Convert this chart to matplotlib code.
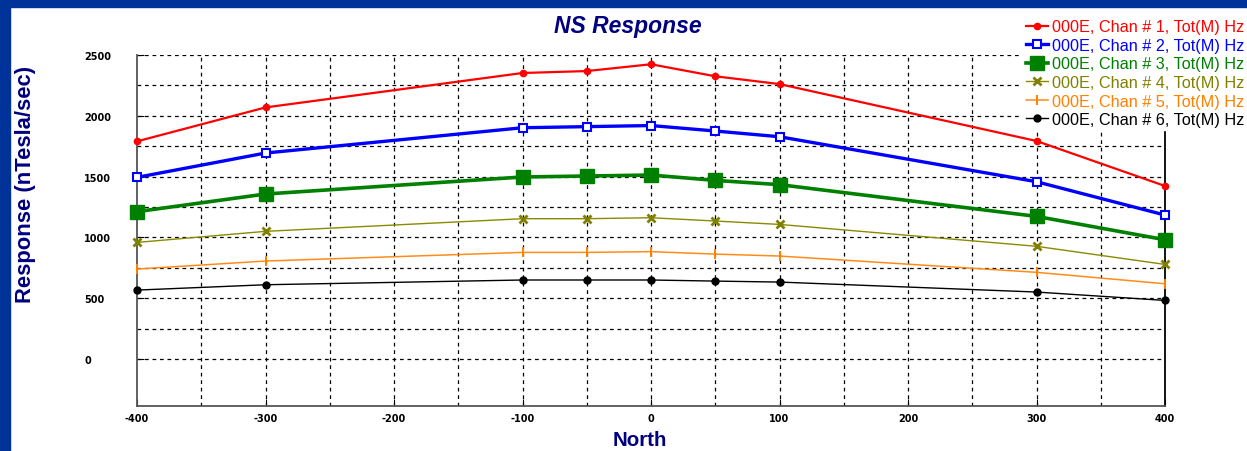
import matplotlib
matplotlib.use("Agg")
import matplotlib.pyplot as plt
from matplotlib.patches import Rectangle

# ---- data ----
north = [-400, -300, -100, -50, 0, 50, 100, 300, 400]
chan1 = [1790, 2069, 2352, 2368, 2424, 2325, 2261, 1793, 1423]
chan2 = [1494, 1694, 1902, 1911, 1920, 1875, 1828, 1458, 1184]
chan3 = [1212, 1357, 1497, 1505, 1513, 1469, 1434, 1173, 981]
chan4 = [959, 1050, 1154, 1154, 1162, 1135, 1107, 927, 778]
chan5 = [740, 806, 877, 877, 883, 863, 847, 713, 619]
chan6 = [567, 611, 650, 650, 650, 641, 633, 551, 482]
labels = ["000E, Chan # %d, Tot(M) Hz" % i for i in range(1, 7)]
x_ticks = [-400, -300, -200, -100, 0, 100, 200, 300, 400]
y_ticks = [0, 500, 1000, 1500, 2000, 2500]

W, H = 1247, 452
fig = plt.figure(figsize=(W / 100, H / 100), dpi=100)
fig.patch.set_facecolor("white")
border = "#003399"
fig.patches.append(Rectangle((0, 0), 10 / W, 1, transform=fig.transFigure, color=border, zorder=0))
fig.patches.append(Rectangle((0, 1 - 8 / H), 1, 8 / H, transform=fig.transFigure, color=border, zorder=0))

ax = fig.add_axes([137 / W, 1 - 407 / H, (1165 - 137) / W, (407 - 56) / H])
ax.set_xlim(-400, 400)
ax.set_ylim(-386, 2500)

# grid
for gx in range(-350, 400, 50):
    ax.axvline(gx, color="black", lw=0.9, ls=(0, (3, 3)), zorder=1)
for gy in range(0, 2501, 250):
    ax.axhline(gy, color="black", lw=0.9, ls=(0, (3, 3)), zorder=1)

styles = [
    dict(color="#ff0000", lw=1.6, marker="o", ms=4.5, mfc="#ff0000", mec="#ff0000"),
    dict(color="#0000ff", lw=2.4, marker="s", ms=5.5, mfc="white", mec="#0000ff", mew=1.5),
    dict(color="#008000", lw=2.6, marker="s", ms=9.5, mfc="#008000", mec="#008000"),
    dict(color="#8a8a00", lw=1.0, marker="x", ms=5.5, mec="#808000", mew=2.0),
    dict(color="#ff8c1a", lw=1.1, marker="|", ms=7, mec="#ff8000", mew=1.4),
    dict(color="black", lw=1.0, marker="o", ms=5, mfc="black", mec="black"),
]
text_colors = ["#ff0000", "#0000ff", "#008000", "#808000", "#ff8000", "black"]
series = [chan1, chan2, chan3, chan4, chan5, chan6]
handles = []
for ys, st, lab in zip(series, styles, labels):
    h, = ax.plot(north, ys, label=lab, zorder=3, clip_on=False, **st)
    handles.append(h)

ax.spines["top"].set_visible(False)
ax.spines["left"].set_color("#555555")
ax.spines["bottom"].set_color("#555555")
ax.spines["right"].set_color("black")
for s in ["left", "bottom", "right"]:
    ax.spines[s].set_linewidth(1.3)

ax.set_xticks(x_ticks)
ax.set_yticks(y_ticks)
ax.set_xticklabels([str(v) for v in x_ticks], fontsize=7, fontweight="bold")
ax.set_yticklabels([str(v) for v in y_ticks], fontsize=7, fontweight="bold", ha="left")
ax.tick_params(axis="x", direction="in", length=5, pad=5, color="black")
ax.tick_params(axis="y", direction="in", length=5, pad=38, color="black")

navy = "#000080"
fig.text(628 / W, 1 - 27 / H, "NS Response", ha="center", va="center", fontsize=16.5,
         fontweight="bold", fontstyle="italic", color=navy, family="Liberation Sans")
fig.text(26 / W, 1 - 184 / H, "Response (nTesla/sec)", ha="center", va="center", rotation=90,
         fontsize=15.8, fontweight="bold", color=navy, family="Liberation Sans")
fig.text(640 / W, 1 - 441 / H, "North", ha="center", va="center", fontsize=14.8,
         fontweight="bold", color=navy, family="Liberation Sans")

leg = fig.legend(handles=handles, labels=labels, loc="upper right",
                 bbox_to_anchor=(1248 / W, 1 - 17 / H), frameon=True, fancybox=False,
                 prop=dict(family="Liberation Sans", size=11.7), handlelength=1.35,
                 handletextpad=0.3, labelspacing=0.22, borderpad=0.2, borderaxespad=0)
leg.get_frame().set_facecolor("white")
leg.get_frame().set_edgecolor("white")
leg.get_frame().set_alpha(1)
for t, c in zip(leg.get_texts(), text_colors):
    t.set_color(c)

fig.savefig("out.png", dpi=100, facecolor="white")
